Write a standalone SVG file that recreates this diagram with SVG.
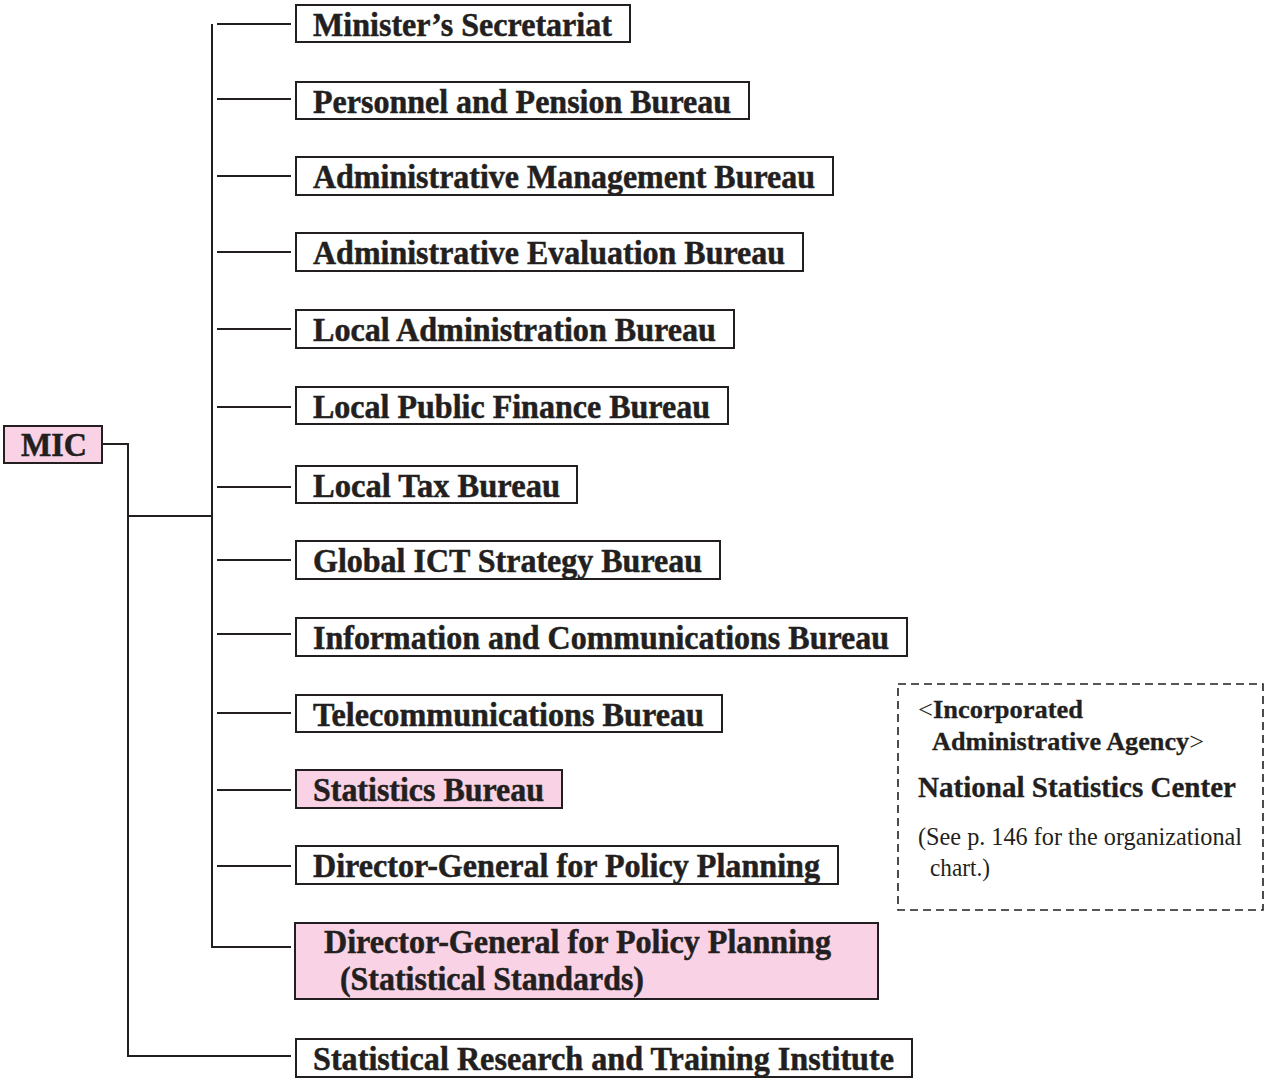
<svg xmlns="http://www.w3.org/2000/svg" width="1265" height="1078" viewBox="0 0 1265 1078">
<style>
.box{fill:#fff;stroke:#231f20;stroke-width:2}
.pink{fill:#f9d3e5;stroke:#231f20;stroke-width:2}
.t{font-family:"Liberation Serif","Times New Roman",serif;font-weight:bold;font-size:33px;fill:#231f20;stroke:#231f20;stroke-width:0.5}
.c{fill:none;stroke:#231f20;stroke-width:2}
.dash{fill:none;stroke:#231f20;stroke-width:1.6;stroke-dasharray:8 5}
.sb{font-family:"Liberation Serif","Times New Roman",serif;font-weight:bold;fill:#231f20;stroke:#231f20;stroke-width:0.3}
.sr{font-family:"Liberation Serif","Times New Roman",serif;font-weight:normal;fill:#231f20;stroke:none}
</style>
<rect width="1265" height="1078" fill="#fff"/>
<g id="connectors">
<path class="c" d="M102 444 H128 V1056 H291"/>
<path class="c" d="M128 516 H212"/>
<path class="c" d="M212 24 V947 H291"/>
<path class="c" d="M217 24 H291 M217 99 H291 M217 176 H291 M217 252 H291 M217 329 H291 M217 407 H291 M217 487 H291 M217 560 H291 M217 634 H291 M217 713 H291 M217 790 H291 M217 866 H291"/>
</g>
<g id="mic"><rect class="pink" x="4" y="426" width="98" height="37"/><text class="t" x="21" y="456" font-size="31" textLength="66" lengthAdjust="spacingAndGlyphs">MIC</text></g>
<g id="n1"><rect class="box" x="296" y="5" width="334" height="37"/><text class="t" x="313" y="35.5" textLength="299" lengthAdjust="spacingAndGlyphs">Minister’s Secretariat</text></g>
<g id="n2"><rect class="box" x="296" y="82" width="453" height="37"/><text class="t" x="313" y="112.5" textLength="418" lengthAdjust="spacingAndGlyphs">Personnel and Pension Bureau</text></g>
<g id="n3"><rect class="box" x="296" y="157" width="537" height="38"/><text class="t" x="313" y="188" textLength="502" lengthAdjust="spacingAndGlyphs">Administrative Management Bureau</text></g>
<g id="n4"><rect class="box" x="296" y="233" width="507" height="38"/><text class="t" x="313" y="264" textLength="472" lengthAdjust="spacingAndGlyphs">Administrative Evaluation Bureau</text></g>
<g id="n5"><rect class="box" x="296" y="310" width="438" height="38"/><text class="t" x="313" y="341" textLength="403" lengthAdjust="spacingAndGlyphs">Local Administration Bureau</text></g>
<g id="n6"><rect class="box" x="296" y="387" width="432" height="37"/><text class="t" x="313" y="417.5" textLength="397" lengthAdjust="spacingAndGlyphs">Local Public Finance Bureau</text></g>
<g id="n7"><rect class="box" x="296" y="466" width="281" height="37"/><text class="t" x="313" y="496.5" textLength="247" lengthAdjust="spacingAndGlyphs">Local Tax Bureau</text></g>
<g id="n8"><rect class="box" x="296" y="541" width="424" height="38"/><text class="t" x="313" y="572" textLength="389" lengthAdjust="spacingAndGlyphs">Global ICT Strategy Bureau</text></g>
<g id="n9"><rect class="box" x="296" y="618" width="611" height="38"/><text class="t" x="313" y="649" textLength="576" lengthAdjust="spacingAndGlyphs">Information and Communications Bureau</text></g>
<g id="n10"><rect class="box" x="296" y="695" width="426" height="37"/><text class="t" x="313" y="725.5" textLength="391" lengthAdjust="spacingAndGlyphs">Telecommunications Bureau</text></g>
<g id="n11"><rect class="pink" x="296" y="770" width="266" height="38"/><text class="t" x="313" y="801" textLength="231" lengthAdjust="spacingAndGlyphs">Statistics Bureau</text></g>
<g id="n12"><rect class="box" x="296" y="846" width="542" height="38"/><text class="t" x="313" y="877" textLength="507" lengthAdjust="spacingAndGlyphs">Director-General for Policy Planning</text></g>
<g id="n13"><rect class="pink" x="295" y="923" width="583" height="76"/><text class="t" x="324" y="953" textLength="507" lengthAdjust="spacingAndGlyphs">Director-General for Policy Planning</text><text class="t" x="340" y="990" textLength="304" lengthAdjust="spacingAndGlyphs">(Statistical Standards)</text></g>
<g id="n14"><rect class="box" x="296" y="1039" width="616" height="38"/><text class="t" x="313" y="1070" textLength="581" lengthAdjust="spacingAndGlyphs">Statistical Research and Training Institute</text></g>
<g id="nsc">
<rect class="dash" x="898" y="684" width="365" height="226"/>
<text class="sb" x="918" y="718" font-size="25" textLength="165" lengthAdjust="spacingAndGlyphs"><tspan class="sr">&lt;</tspan>Incorporated</text>
<text class="sb" x="932" y="750" font-size="25" textLength="272" lengthAdjust="spacingAndGlyphs">Administrative Agency<tspan class="sr">&gt;</tspan></text>
<text class="sb" x="918" y="797" font-size="29" textLength="318" lengthAdjust="spacingAndGlyphs">National Statistics Center</text>
<text class="sr" x="918" y="845" font-size="25" textLength="324" lengthAdjust="spacingAndGlyphs">(See p. 146 for the organizational</text>
<text class="sr" x="930" y="876" font-size="25" textLength="60" lengthAdjust="spacingAndGlyphs">chart.)</text>
</g>
</svg>
